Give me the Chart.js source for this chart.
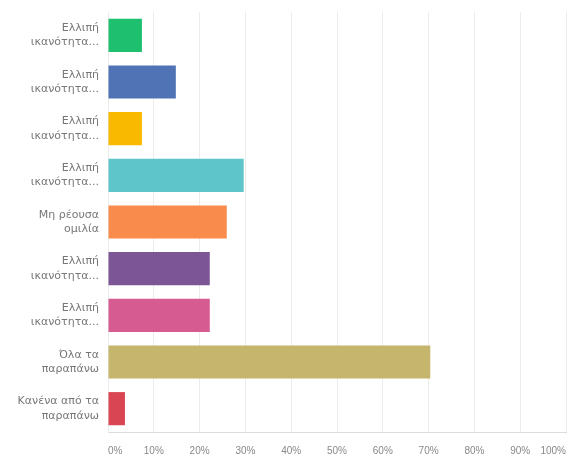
<!DOCTYPE html>
<html>
<head>
<meta charset="utf-8">
<script src="https://cdn.jsdelivr.net/npm/chart.js@4"></script>
<style>
  html, body { margin: 0; padding: 0; background: #fff; }
  #wrap { width: 570px; height: 456px; }
</style>
</head>
<body>
<div id="wrap"><canvas id="answers"></canvas></div>
<script>
// answer choices (shown truncated, two lines each)
const categories = [
    ['Ελλιπή', 'ικανότητα...'],
    ['Ελλιπή', 'ικανότητα...'],
    ['Ελλιπή', 'ικανότητα...'],
    ['Ελλιπή', 'ικανότητα...'],
    ['Μη ρέουσα', 'ομιλία'],
    ['Ελλιπή', 'ικανότητα...'],
    ['Ελλιπή', 'ικανότητα...'],
    ['Όλα τα', 'παραπάνω'],
    ['Κανένα από τα', 'παραπάνω']
];

// share of respondents, %
const percentages = [7.41, 14.81, 7.41, 29.63, 25.93, 22.22, 22.22, 70.37, 3.70];

const barColors = [
    '#1ebf6f', '#5073b6', '#f9b901', '#5ec5ca', '#f98b4c',
    '#7b5595', '#d55b91', '#c6b66d', '#d94552'
];

const tickLabels = ['0%', '10%', '20%', '30%', '40%', '50%', '60%', '70%', '80%', '90%', '100%'];

const ctx = document.getElementById('answers');
new Chart(ctx, {
    type: 'bar',
    data: {
        labels: categories,
        datasets: [{
            data: percentages,
            backgroundColor: barColors,
            borderWidth: 0,
            categoryPercentage: 1,
            barPercentage: 0.71
        }]
    },
    options: {
        indexAxis: 'y',
        responsive: true,
        maintainAspectRatio: false,
        animation: false,
        layout: {
            padding: { top: 12, right: 4, bottom: 0, left: 0 }
        },
        plugins: {
            legend: { display: false },
            tooltip: { enabled: false }
        },
        scales: {
            x: {
                min: 0,
                max: 100,
                afterFit: function (scale) {
                    // labels are kept inside the area, no extra side room needed
                    scale.height = 24;
                    scale.paddingLeft = 0;
                    scale.paddingRight = 0;
                },
                grid: {
                    color: '#ececec',
                    drawTicks: false
                },
                border: { color: '#dcdcdc' },
                ticks: {
                    stepSize: 10,
                    align: 'inner',
                    padding: 13,
                    color: '#888888',
                    font: { family: 'Liberation Sans', size: 10 },
                    callback: function (value, index) {
                        return tickLabels[index];
                    }
                }
            },
            y: {
                afterFit: function (scale) {
                    scale.width = 108;
                    scale.paddingTop = 0;
                    scale.paddingBottom = 0;
                },
                grid: { display: false, drawTicks: false },
                border: { color: '#ececec' },
                ticks: {
                    padding: 9,
                    color: '#777777',
                    font: { family: 'DejaVu Sans', size: 11, lineHeight: 1.3 }
                }
            }
        }
    }
});
</script>
</body>
</html>
